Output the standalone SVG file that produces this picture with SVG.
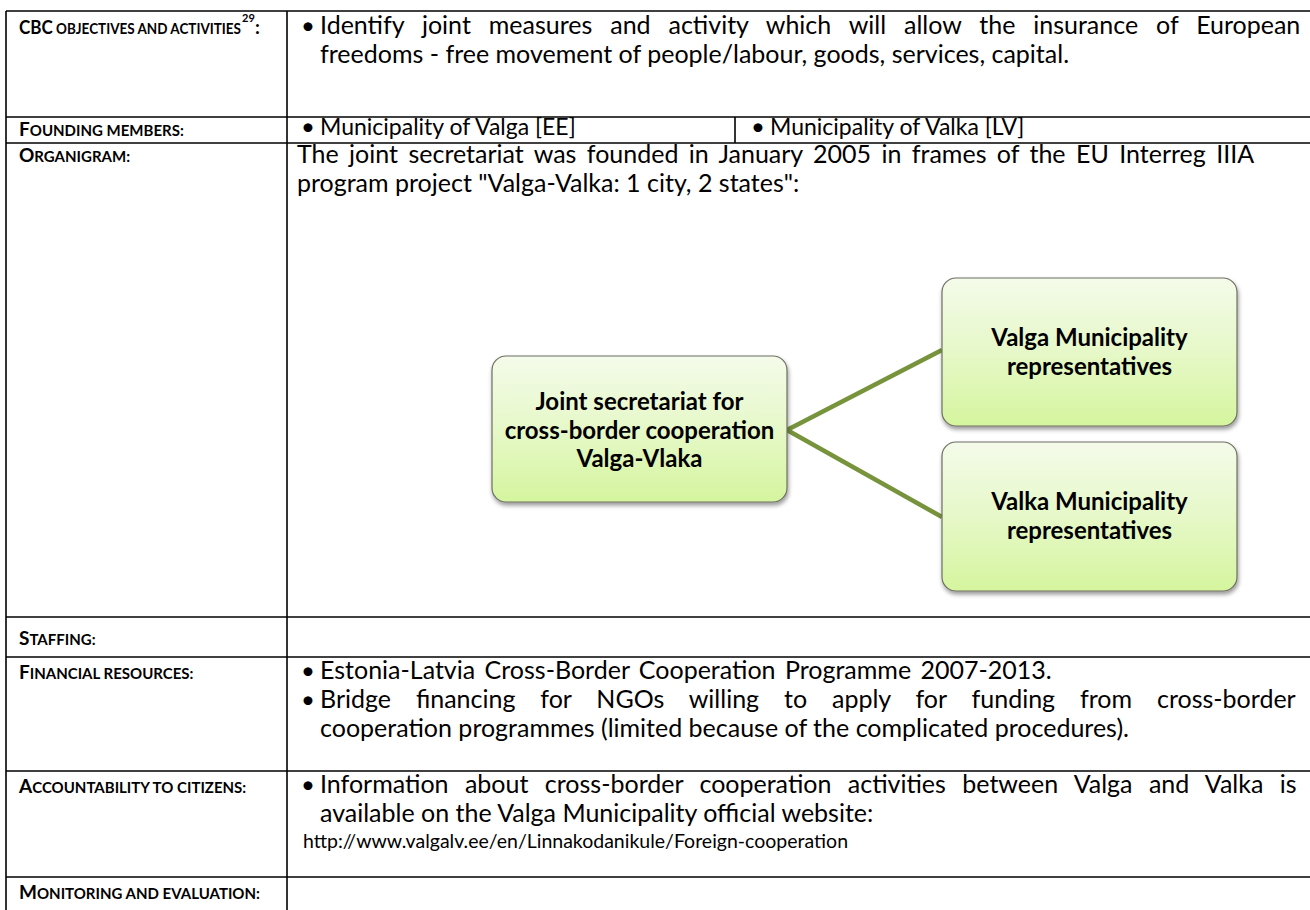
<svg xmlns="http://www.w3.org/2000/svg" width="1310" height="910" viewBox="0 0 1310 910">
<style>
.t{font-family:Lato,"Liberation Sans",sans-serif;font-size:25px;fill:#000}
.f{font-size:23px}
.bu{font-family:Lato,"Liberation Sans",sans-serif;font-size:24px;fill:#000}
.lb{font-family:Lato,"Liberation Sans",sans-serif;font-weight:bold;fill:#000;font-size:15px}
.cap{font-size:19px}
.sup{font-size:11px}
.bx{font-family:Lato,"Liberation Sans",sans-serif;font-weight:bold;font-size:24px;fill:#000;text-anchor:middle}
.url{font-family:Lato,"Liberation Sans",sans-serif;font-size:19.5px;fill:#000}
.ln{stroke:#000;stroke-width:1.6;fill:none}
.node{fill:url(#g);stroke:#6e6e62;stroke-width:1.2;filter:url(#sh)}
.conn{stroke:#77933c;stroke-width:4.5;fill:none}
</style>
<defs>
<linearGradient id="g" x1="0" y1="0" x2="0" y2="1">
<stop offset="0" stop-color="#f4fbea"/>
<stop offset="0.5" stop-color="#e6f8c8"/>
<stop offset="1" stop-color="#d5f59e"/>
</linearGradient>
<filter id="sh" x="-10%" y="-10%" width="120%" height="130%">
<feDropShadow dx="1" dy="3" stdDeviation="2" flood-color="#000" flood-opacity="0.4"/>
</filter>
</defs>
<rect width="1310" height="910" fill="#fff"/>
<g id="table">
<line class="ln" x1="6" y1="11" x2="1310" y2="11"/>
<line class="ln" x1="6" y1="117" x2="1310" y2="117"/>
<line class="ln" x1="6" y1="143" x2="1310" y2="143"/>
<line class="ln" x1="6" y1="617" x2="1310" y2="617"/>
<line class="ln" x1="6" y1="657" x2="1310" y2="657"/>
<line class="ln" x1="6" y1="771" x2="1310" y2="771"/>
<line class="ln" x1="6" y1="877" x2="1310" y2="877"/>
<line class="ln" x1="6" y1="11" x2="6" y2="910"/>
<line class="ln" x1="287" y1="11" x2="287" y2="910"/>
<line class="ln" x1="735" y1="117" x2="735" y2="143"/>
</g>
<g id="labels">
<text class="lb" x="19" y="34" textLength="222" lengthAdjust="spacingAndGlyphs"><tspan class="cap">CBC</tspan> OBJECTIVES AND ACTIVITIES</text>
<text class="lb sup" x="242" y="22">29</text>
<text class="lb cap" x="255" y="34">:</text>
<text class="lb" x="19" y="136"><tspan class="cap">F</tspan>OUNDING MEMBERS:</text>
<text class="lb" x="19" y="162"><tspan class="cap">O</tspan>RGANIGRAM:</text>
<text class="lb" x="19" y="645"><tspan class="cap">S</tspan>TAFFING:</text>
<text class="lb" x="19" y="679"><tspan class="cap">F</tspan>INANCIAL RESOURCES:</text>
<text class="lb" x="19" y="793"><tspan class="cap">A</tspan>CCOUNTABILITY TO CITIZENS:</text>
<text class="lb" x="19" y="899"><tspan class="cap">M</tspan>ONITORING AND EVALUATION:</text>
</g>
<g id="content">
<text class="bu" x="301" y="34">•</text>
<text class="t" x="320" y="34" word-spacing="11.5">Identify joint measures and activity which will allow the insurance of European</text>
<text class="t" x="320" y="63">freedoms  - free movement of people/labour, goods, services, capital.</text>
<text class="bu" x="301" y="135">•</text>
<text class="t f" x="320" y="135">Municipality of Valga [EE]</text>
<text class="bu" x="751" y="135">•</text>
<text class="t f" x="770" y="135">Municipality of Valka [LV]</text>
<text class="t" x="297" y="163" word-spacing="4">The joint secretariat was founded in January 2005 in frames of the EU Interreg IIIA</text>
<text class="t" x="297" y="192">program project "Valga-Valka: 1 city, 2 states":</text>
<text class="bu" x="301" y="679">•</text>
<text class="t" x="320" y="679" word-spacing="3">Estonia-Latvia Cross-Border Cooperation Programme 2007-2013.</text>
<text class="bu" x="301" y="708">•</text>
<text class="t" x="320" y="708" word-spacing="18.5">Bridge financing for NGOs willing to apply for funding from cross-border</text>
<text class="t" x="320" y="737">cooperation programmes (limited because of the complicated procedures).</text>
<text class="bu" x="301" y="793">•</text>
<text class="t" x="320" y="793" word-spacing="10">Information about cross-border cooperation activities between Valga and Valka is</text>
<text class="t" x="320" y="822">available on the Valga Municipality official website:</text>
<text class="url" x="303" y="848">http://www.valgalv.ee/en/Linnakodanikule/Foreign-cooperation</text>
</g>
<g id="connectors">
<line class="conn" x1="787" y1="430" x2="942" y2="350"/>
<line class="conn" x1="787" y1="430" x2="942" y2="517"/>
</g>
<g id="node-secretariat">
<rect class="node" x="492" y="356" width="295" height="146" rx="14"/>
<text class="bx" x="639.5" y="410">Joint secretariat for</text>
<text class="bx" x="639.5" y="439">cross-border cooperation</text>
<text class="bx" x="639.5" y="467">Valga-Vlaka</text>
</g>
<g id="node-valga">
<rect class="node" x="942" y="278" width="295" height="148" rx="14"/>
<text class="bx" x="1089.5" y="346">Valga Municipality</text>
<text class="bx" x="1089.5" y="375">representatives</text>
</g>
<g id="node-valka">
<rect class="node" x="942" y="442" width="295" height="149" rx="14"/>
<text class="bx" x="1089.5" y="510">Valka Municipality</text>
<text class="bx" x="1089.5" y="539">representatives</text>
</g>
</svg>
